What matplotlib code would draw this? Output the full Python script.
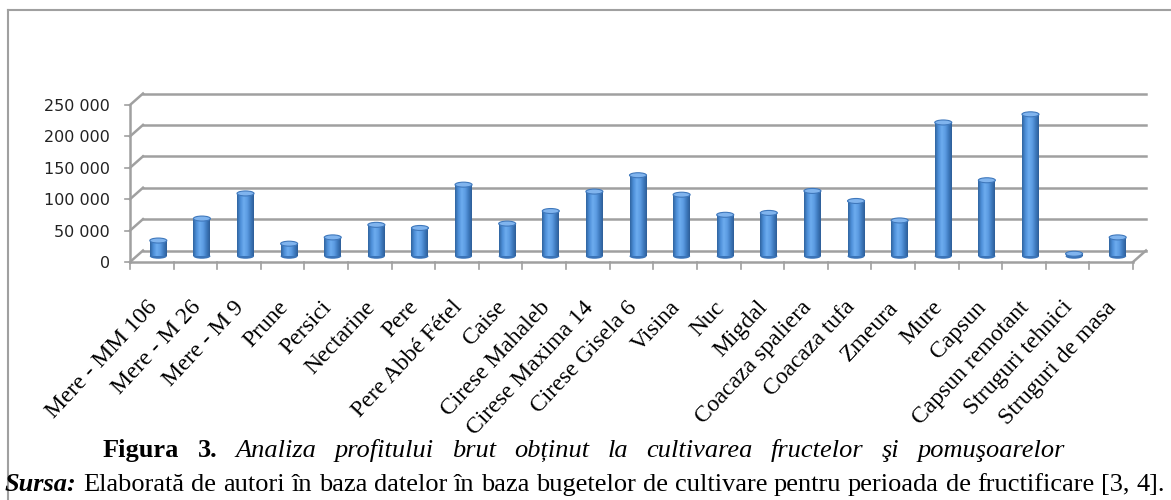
import numpy as np
import matplotlib.pyplot as plt
from matplotlib.patches import Ellipse, Rectangle
from matplotlib.colors import LinearSegmentedColormap

categories = ["Mere - MM 106", "Mere - M 26", "Mere - M 9", "Prune", "Persici",
              "Nectarine", "Pere", "Pere Abbé Fétel", "Caise", "Cirese Mahaleb",
              "Cirese Maxima 14", "Cirese Gisela 6", "Visina", "Nuc", "Migdal",
              "Coacaza spaliera", "Coacaza tufa", "Zmeura", "Mure", "Capsun",
              "Capsun remotant", "Struguri tehnici", "Struguri de masa"]
profit = [25000, 60000, 100000, 20000, 30000, 50000, 45000, 114000, 52000, 72000,
          103000, 129000, 98000, 66000, 69000, 104000, 88000, 57000, 213000, 121000,
          226000, 4000, 30000]
y_ticks = [0, 50000, 100000, 150000, 200000, 250000]
y_tick_labels = ["0", "50 000", "100 000", "150 000", "200 000", "250 000"]

caption_bold = "Figura 3."
caption_italic = "Analiza profitului brut obținut la cultivarea fructelor şi pomuşoarelor"
source_bold = "Sursa:"
source_text = ("Elaborată de autori în baza datelor în baza bugetelor de cultivare "
               "pentru perioada de fructificare [3, 4].")

W, H = 1171, 500
fig = plt.figure(figsize=(W / 100, H / 100), dpi=100)
fig.patch.set_facecolor("white")

# plot area (front plane) in pixels
left_px, right_px = 130, 1133
zero_px, top_px = 262, 105
ax = fig.add_axes([left_px / W, 1 - zero_px / H, (right_px - left_px) / W, (zero_px - top_px) / H])
n = len(categories)
ax.axis("off")

px_x = n / (right_px - left_px)            # data units per pixel, x
px_y = 250000 / (zero_px - top_px)         # data units per pixel, y
DX, DY = 13 * px_x, 11.5 * px_y            # depth of the 3d box
grid_c = "#a0a0a0"

# walls / gridlines
for v, lab in zip(y_ticks, y_tick_labels):
    ax.plot([-0.5, -0.5 + DX], [v, v + DY], color=grid_c, lw=1.8, clip_on=False, zorder=1)
    ax.plot([-0.5 + DX, n - 0.5 + DX], [v + DY, v + DY], color=grid_c, lw=1.8,
            clip_on=False, zorder=1)
    ax.plot([-0.5 - 5 * px_x, -0.5], [v, v], color=grid_c, lw=1.2, clip_on=False, zorder=1)
    ax.text(-0.5 - 20 * px_x, v - 1.5 * px_y, lab, ha="right", va="center",
            fontsize=11.5, color="#222222", family="DejaVu Sans")
ax.plot([-0.5, -0.5], [0, 250000], color=grid_c, lw=1.8, clip_on=False, zorder=1)
ax.plot([-0.5, n - 0.5], [0, 0], color=grid_c, lw=1.8, clip_on=False, zorder=1)
ax.plot([n - 0.5, n - 0.5 + DX], [0, DY], color=grid_c, lw=1.8, clip_on=False, zorder=1)
for k in range(n + 1):
    ax.plot([k - 0.5, k - 0.5], [0, -7 * px_y], color=grid_c, lw=1.2, clip_on=False)

# cylinders
body_cmap = LinearSegmentedColormap.from_list(
    "cyl", ["#3064a0", "#4d8fd8", "#6dacef", "#5d9de3", "#3f7bc0", "#2e5e98"])
grad = np.linspace(0, 1, 64).reshape(1, -1)
bw = 17 * px_x
cap_h = 5 * px_y
for i, v in enumerate(profit):
    cx = i + DX / 2
    base = DY / 2
    ax.add_patch(Ellipse((cx, base), bw, cap_h, facecolor="#3b74b8", edgecolor="none", zorder=3))
    rect = Rectangle((cx - bw / 2, base), bw, v, facecolor="none", edgecolor="none", zorder=3)
    ax.add_patch(rect)
    im = ax.imshow(grad, cmap=body_cmap, aspect="auto", zorder=3,
                   extent=(cx - bw / 2, cx + bw / 2, base, base + v))
    im.set_clip_path(rect)
    ax.add_patch(Ellipse((cx, base + v), bw, cap_h, facecolor="#80b4ee",
                         edgecolor="#3f78bc", lw=0.8, zorder=4))
ax.set_xlim(-0.5, n - 0.5)
ax.set_ylim(0, 250000)

# category labels
for i, name in enumerate(categories):
    ax.text(i + 2 * px_x, -42 * px_y, name, rotation=47, rotation_mode="anchor",
            ha="right", va="center", fontsize=17, family="Liberation Serif", color="black")

# frame around the chart
fig.add_artist(plt.Line2D([8 / W, 1], [1 - 10 / H, 1 - 10 / H], color="#a0a0a0", lw=1.5))
fig.add_artist(plt.Line2D([8 / W, 8 / W], [0, 1 - 10 / H], color="#a0a0a0", lw=1.5))

# caption lines, justified between two x positions
r = fig.canvas.get_renderer()


def justify(pieces, x_left, x_right, y_base, size=19):
    words = []
    for s, kw in pieces:
        for w in s.split(" "):
            words.append(fig.text(0, 0, w, fontsize=size, family="Liberation Serif",
                                  va="baseline", ha="left", **kw))
    widths = [t.get_window_extent(r).width for t in words]
    gap = (x_right - x_left - sum(widths)) / (len(words) - 1)
    x = x_left
    for t, w in zip(words, widths):
        t.set_position((x / W, 1 - y_base / H))
        x += w + gap


justify([(caption_bold, {"weight": "bold"}),
         (caption_italic, {"style": "italic"})], 103, 1065, 457)
justify([(source_bold, {"weight": "bold", "style": "italic"}),
         (source_text, {})], 5, 1165, 491)

fig.savefig("out.png", dpi=100)
